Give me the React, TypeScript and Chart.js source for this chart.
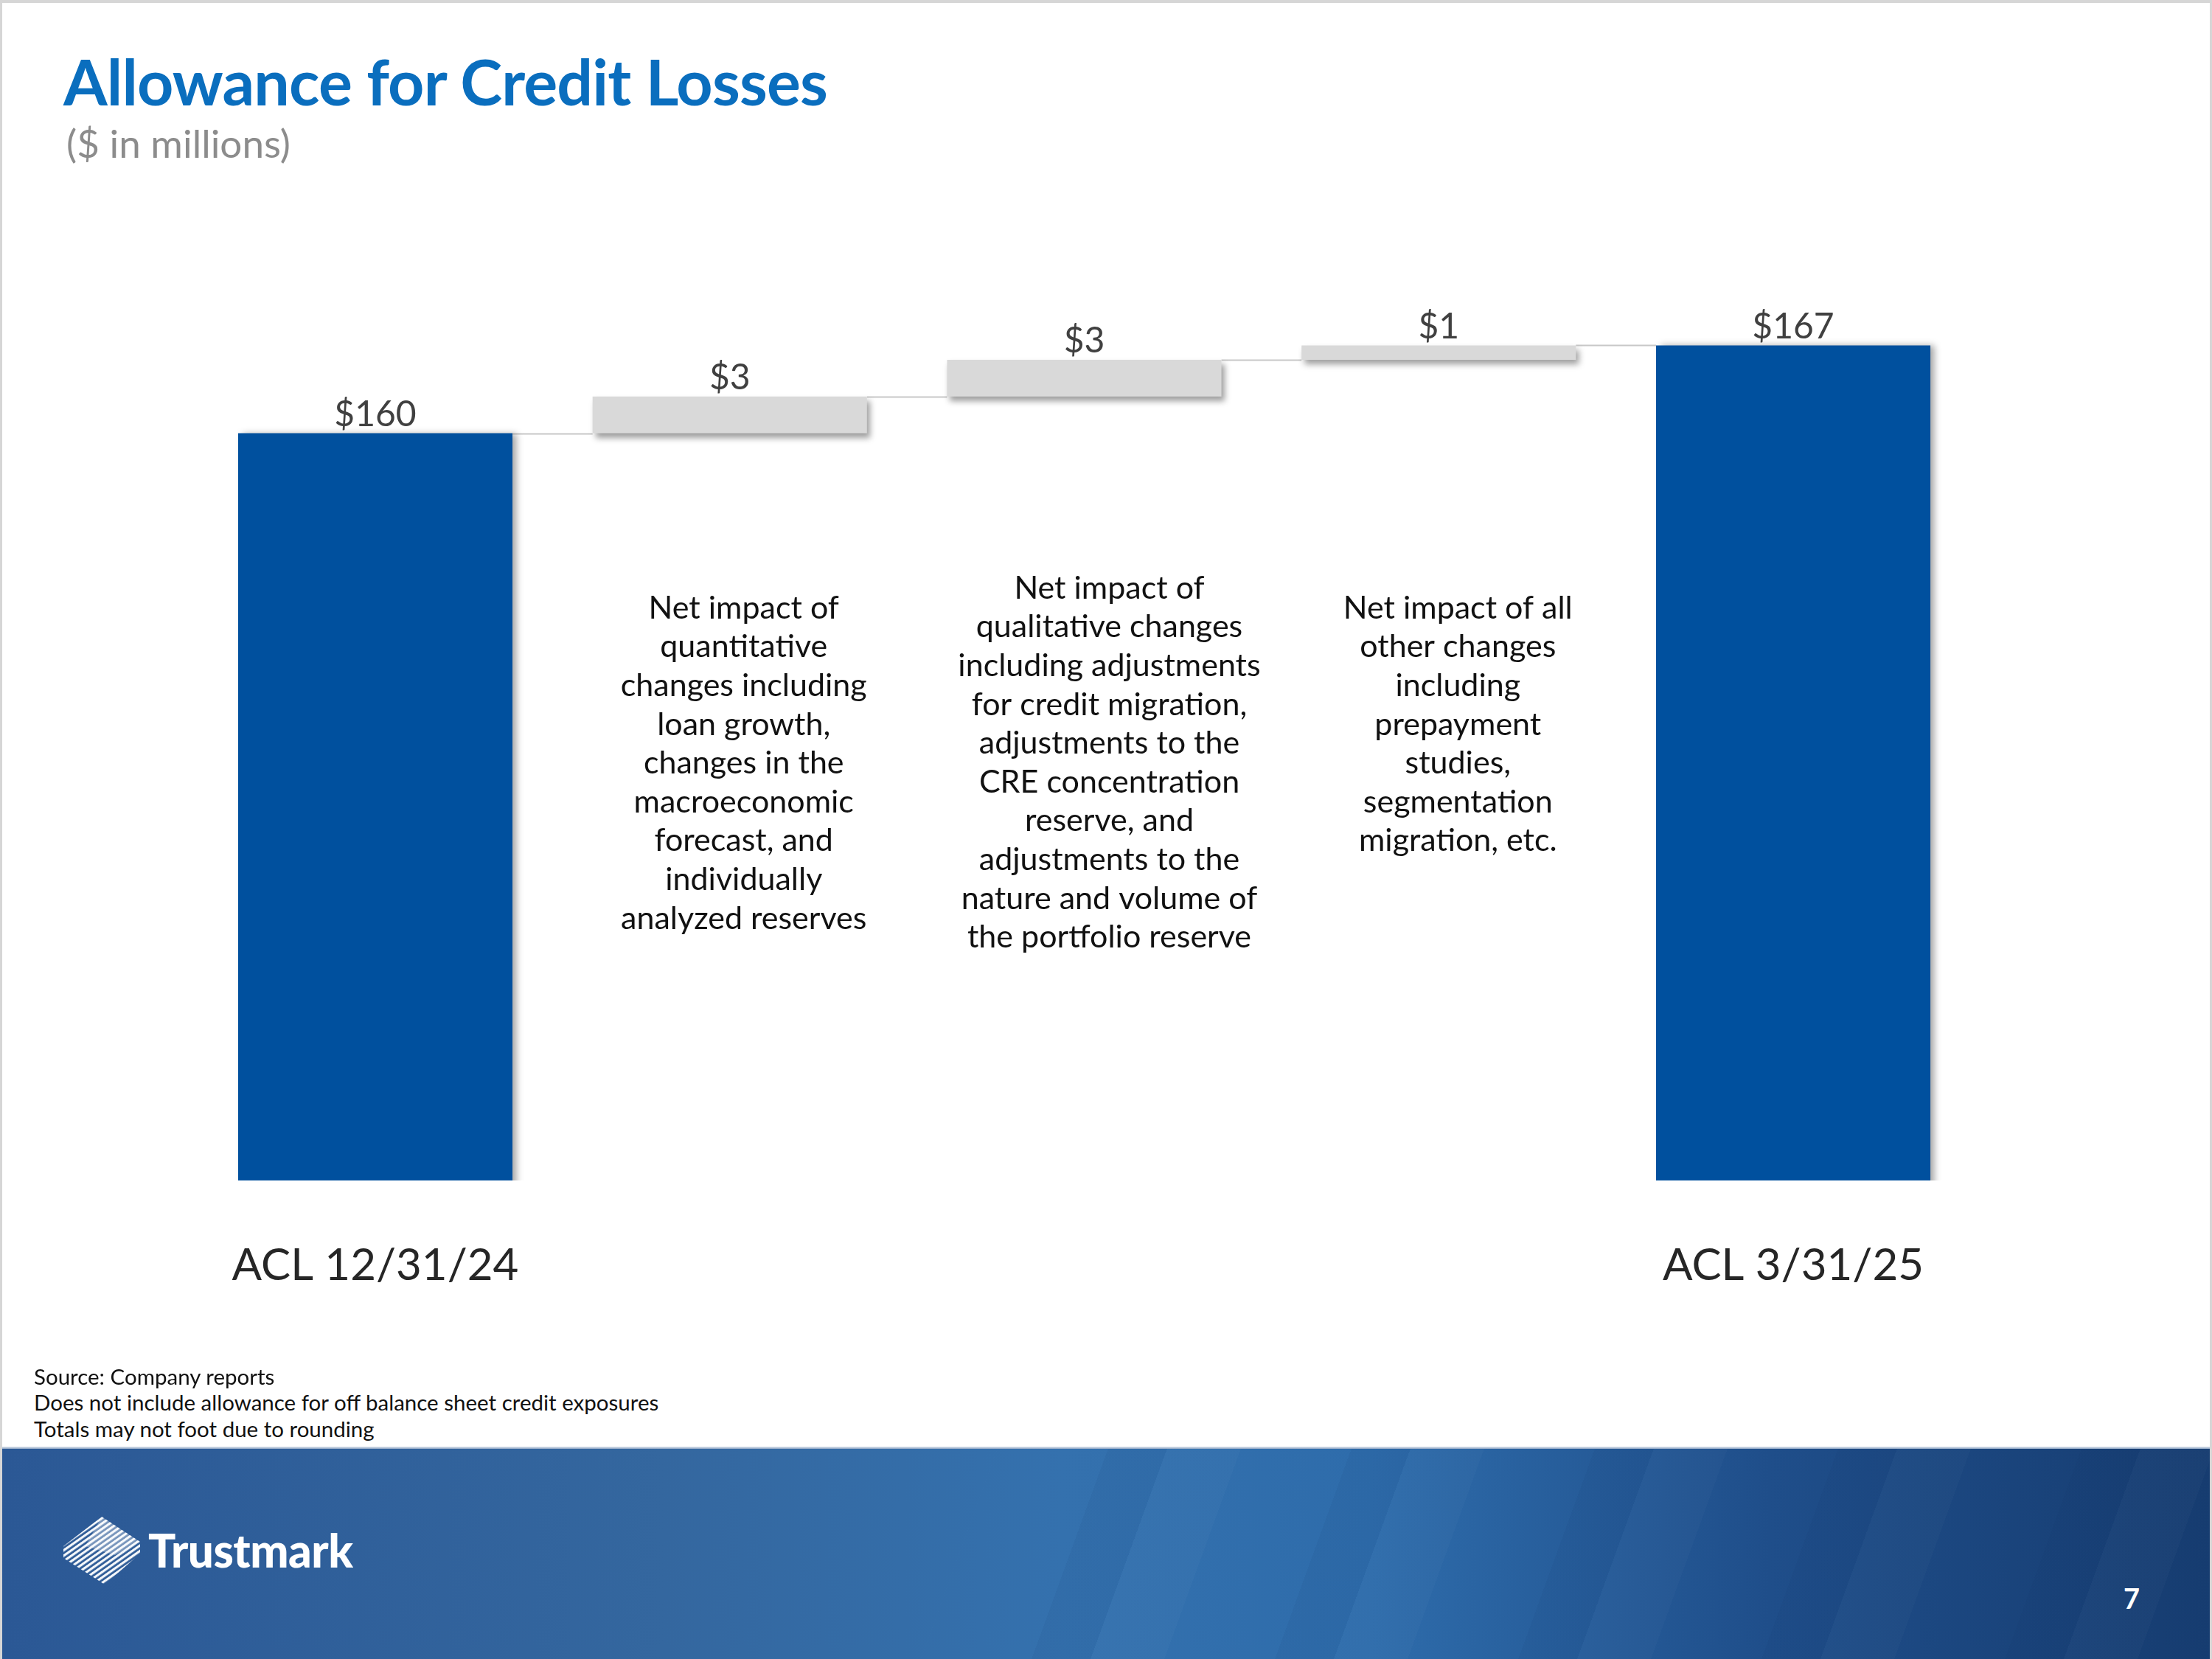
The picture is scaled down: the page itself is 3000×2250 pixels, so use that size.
import React, { useEffect, useRef } from 'react';
import { Chart, registerables } from 'chart.js';

Chart.register(...registerables);

// ---------- data ----------
const categories = ['ACL 12/31/24', '', '', '', 'ACL 3/31/25'];
const openingBalance = 160.0;
const changes = [2.8, 2.8, 1.1];
const closingBalance = 166.7;

const descriptions: string[][] = [
  [
    'Net impact of',
    'quantitative',
    'changes including',
    'loan growth,',
    'changes in the',
    'macroeconomic',
    'forecast, and',
    'individually',
    'analyzed reserves',
  ],
  [
    'Net impact of',
    'qualitative changes',
    'including adjustments',
    'for credit migration,',
    'adjustments to the',
    'CRE concentration',
    'reserve, and',
    'adjustments to the',
    'nature and volume of',
    'the portfolio reserve',
  ],
  [
    'Net impact of all',
    'other changes',
    'including',
    'prepayment',
    'studies,',
    'segmentation',
    'migration, etc.',
  ],
];

const footnotes = [
  'Source: Company reports',
  'Does not include allowance for off balance sheet credit exposures',
  'Totals may not foot due to rounding',
];

const titleText = 'Allowance for Credit Losses';
const subtitleText = '($ in millions)';
const pageNumber = '7';

// ---------- derived series ----------
const totalsData: (number | null)[] = [openingBalance, null, null, null, closingBalance];
const changesData: ([number, number] | null)[] = [null];
let running = openingBalance;
changes.forEach((c) => {
  changesData.push([running, running + c]);
  running += c;
});
changesData.push(null);
const labelValues = [openingBalance, ...changes, closingBalance];
const levels: number[] = [openingBalance];
{
  let r = openingBalance;
  changes.forEach((c) => {
    r += c;
    levels.push(r);
  });
}

const BLUE = '#00509E';
const GRAY = '#D9D9D9';

const FONT = 'Lato, "Open Sans", sans-serif';

export default function App() {
  const canvasRef = useRef<HTMLCanvasElement | null>(null);

  useEffect(() => {
    document.body.style.margin = '0';
    const canvas = canvasRef.current;
    if (!canvas) return;

    const getElements = (chart: any) => {
      const tot = chart.getDatasetMeta(0).data;
      const chg = chart.getDatasetMeta(1).data;
      const els: any[] = [];
      for (let i = 0; i < categories.length; i++) {
        els.push(totalsData[i] !== null ? tot[i] : chg[i]);
      }
      return els;
    };

    const shadowPlugin = {
      id: 'barShadow',
      beforeDatasetDraw(chart: any, args: any) {
        const ctx = chart.ctx;
        ctx.save();
        if (args.index === 0) {
          ctx.shadowColor = 'rgba(0,0,0,0.35)';
          ctx.shadowBlur = 9;
          ctx.shadowOffsetX = 6;
          ctx.shadowOffsetY = 0;
        } else {
          ctx.shadowColor = 'rgba(0,0,0,0.38)';
          ctx.shadowBlur = 8;
          ctx.shadowOffsetX = 4;
          ctx.shadowOffsetY = 6;
        }
      },
      afterDatasetDraw(chart: any) {
        chart.ctx.restore();
      },
    };

    const connectorPlugin = {
      id: 'connectors',
      beforeDatasetsDraw(chart: any) {
        const ctx = chart.ctx;
        const els = getElements(chart);
        const y = chart.scales.y;
        ctx.save();
        ctx.strokeStyle = '#C8C8C8';
        ctx.lineWidth = 2;
        for (let i = 0; i < els.length - 1; i++) {
          const a = els[i];
          const b = els[i + 1];
          const py = Math.round(y.getPixelForValue(levels[i])) + 0.5;
          ctx.beginPath();
          ctx.moveTo(a.x + a.width / 2, py);
          ctx.lineTo(b.x - b.width / 2, py);
          ctx.stroke();
        }
        ctx.restore();
      },
    };

    const labelPlugin = {
      id: 'valueLabels',
      afterDatasetsDraw(chart: any) {
        const ctx = chart.ctx;
        const els = getElements(chart);
        ctx.save();
        ctx.font = `48px ${FONT}`;
        ctx.fillStyle = '#404040';
        ctx.textAlign = 'center';
        ctx.textBaseline = 'middle';
        els.forEach((el, i) => {
          ctx.fillText(`$${Math.round(labelValues[i])}`, el.x, el.y - 25);
        });
        ctx.restore();
      },
    };

    const descOffsets = [19, 34, 26];
    const descTops = [825, 798, 825];
    const descPlugin = {
      id: 'descriptions',
      afterDraw(chart: any) {
        const ctx = chart.ctx;
        const x = chart.scales.x;
        ctx.save();
        ctx.font = `43px ${FONT}`;
        ctx.fillStyle = '#111111';
        ctx.textAlign = 'center';
        ctx.textBaseline = 'middle';
        descriptions.forEach((lines, j) => {
          const cx = x.getPixelForValue(j + 1) + descOffsets[j];
          lines.forEach((line, k) => {
            ctx.fillText(line, cx, descTops[j] + k * 52.6);
          });
        });
        ctx.restore();
      },
    };

    const chart = new Chart(canvas, {
      type: 'bar',
      data: {
        labels: categories,
        datasets: [
          {
            data: totalsData as any,
            backgroundColor: BLUE,
            borderWidth: 0,
            barPercentage: 0.774,
            categoryPercentage: 1,
            grouped: false,
          } as any,
          {
            data: changesData as any,
            backgroundColor: GRAY,
            borderWidth: 0,
            barPercentage: 0.774,
            categoryPercentage: 1,
            grouped: false,
          } as any,
        ],
      },
      options: {
        animation: false,
        responsive: false,
        devicePixelRatio: 1,
        layout: {
          padding: { left: 268.6, right: 327.6, top: 392, bottom: 48 },
        },
        plugins: {
          legend: { display: false },
          tooltip: { enabled: false },
          title: { display: false },
        },
        scales: {
          x: {
            grid: { display: false, drawTicks: false },
            border: { display: false },
            ticks: {
              padding: 80,
              color: '#262626',
              font: { family: FONT, size: 60 },
              maxRotation: 0,
              autoSkip: false,
            },
          },
          y: {
            display: false,
            min: 103,
            max: 171,
          },
        },
      },
      plugins: [connectorPlugin, shadowPlugin, labelPlugin, descPlugin],
    });

    return () => {
      chart.destroy();
    };
  }, []);

  return (
    <div
      style={{
        position: 'absolute',
        left: 0,
        top: 0,
        width: 3000,
        height: 2250,
        background: '#ffffff',
        overflow: 'hidden',
        fontFamily: FONT,
      }}
    >
      <canvas
        ref={canvasRef}
        width={3000}
        height={1881}
        style={{ position: 'absolute', left: 0, top: 0, width: 3000, height: 1881 }}
      />
      <div
        style={{
          position: 'absolute',
          left: 86,
          top: 67,
          fontSize: 86,
          lineHeight: 1,
          fontWeight: 700,
          color: '#0A6EBE',
          whiteSpace: 'nowrap',
          letterSpacing: -0.8,
        }}
      >
        {titleText}
      </div>
      <div
        style={{
          position: 'absolute',
          left: 90,
          top: 167,
          fontSize: 53,
          lineHeight: 1,
          color: '#8C8C8C',
          whiteSpace: 'nowrap',
        }}
      >
        {subtitleText}
      </div>
      {footnotes.map((t, i) => (
        <div
          key={i}
          style={{
            position: 'absolute',
            left: 46,
            top: [1852, 1887, 1923][i],
            fontSize: 29.5,
            lineHeight: 1,
            color: '#111111',
            whiteSpace: 'nowrap',
          }}
        >
          {t}
        </div>
      ))}
      {/* footer band */}
      <div
        style={{
          position: 'absolute',
          left: 0,
          top: 1962,
          width: 3000,
          height: 4,
          background: 'linear-gradient(to bottom, #dfe6ee, #6f8db5)',
        }}
      />
      <div
        style={{
          position: 'absolute',
          left: 0,
          top: 1965,
          width: 3000,
          height: 285,
          background:
            'linear-gradient(90deg, #2B5895 0%, #34679F 30%, #3471AE 48%, #2E6CAB 62%, #1F4E8A 80%, #163C70 100%)',
          overflow: 'hidden',
        }}
      >
        <div
          style={{
            position: 'absolute',
            left: 1300,
            top: -20,
            width: 1800,
            height: 330,
            transform: 'skewX(-20deg)',
            background:
              'repeating-linear-gradient(90deg, rgba(255,255,255,0.0) 0px, rgba(255,255,255,0.0) 150px, rgba(10,40,90,0.06) 150px, rgba(10,40,90,0.06) 230px, rgba(255,255,255,0.02) 230px, rgba(255,255,255,0.02) 330px)',
          }}
        />
        <svg
          width={104}
          height={92}
          viewBox="0 0 104 92"
          style={{ position: 'absolute', left: 86, top: 92 }}
        >
          <defs>
            <pattern id="stripes" width="6" height="6" patternUnits="userSpaceOnUse" patternTransform="rotate(-35)">
              <rect width="6" height="3.2" fill="#ffffff" />
            </pattern>
            <clipPath id="diamond">
              <polygon points="52,0 104,34 104,50 56,92 0,56 0,40" />
            </clipPath>
          </defs>
          <g clipPath="url(#diamond)">
            <rect width="104" height="92" fill="url(#stripes)" opacity="0.95" />
            <polygon points="52,0 104,34 70,52 30,40" fill="#ffffff" opacity="0.35" />
          </g>
        </svg>
        <div
          style={{
            position: 'absolute',
            left: 201,
            top: 106,
            fontSize: 62,
            lineHeight: 1,
            fontWeight: 900,
            color: '#ffffff',
            letterSpacing: -0.5,
            whiteSpace: 'nowrap',
          }}
        >
          Trustmark
        </div>
        <div
          style={{
            position: 'absolute',
            left: 2880,
            top: 183,
            fontSize: 38,
            lineHeight: 1,
            fontWeight: 700,
            color: '#ffffff',
          }}
        >
          {pageNumber}
        </div>
      </div>
      {/* slide border */}
      <div
        style={{
          position: 'absolute',
          left: 0,
          top: 0,
          width: 3000,
          height: 2250,
          boxSizing: 'border-box',
          borderTop: '4px solid #D6D6D6',
          borderLeft: '3px solid #D6D6D6',
          borderRight: '3px solid #D6D6D6',
          pointerEvents: 'none',
        }}
      />
    </div>
  );
}
